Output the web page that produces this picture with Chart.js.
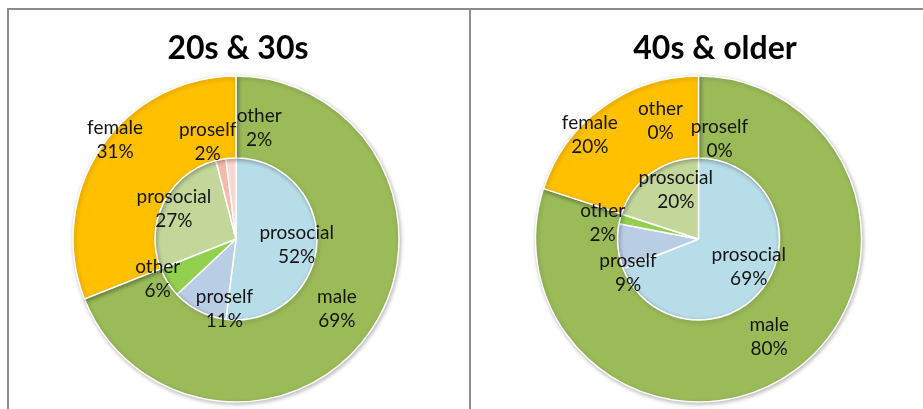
<!DOCTYPE html>
<html>
<head>
<meta charset="utf-8">
<script src="https://cdn.jsdelivr.net/npm/chart.js@4.4.1/dist/chart.umd.min.js"></script>
<style>
  html, body { margin: 0; padding: 0; background: #fff; }
  body { width: 923px; height: 409px; position: relative; overflow: hidden; }
  .panel { position: absolute; top: 8px; height: 401px; box-sizing: border-box;
           border-top: 2px solid #8c8c8c; border-left: 2px solid #8c8c8c; }
  #panelA { left: 7px; width: 462px; }
  #panelB { left: 469px; width: 454px; }
  canvas { position: absolute; top: 0; }
</style>
</head>
<body>
<div class="panel" id="panelA"></div>
<div class="panel" id="panelB"></div>
<canvas id="chartA" width="472" height="409" style="left:0"></canvas>
<canvas id="chartB" width="453" height="409" style="left:470px"></canvas>
<script>
// outer ring: gender split, inner pie: orientation within each gender
const genders = ['male', 'female'];
const orientations = ['prosocial', 'proself', 'other', 'prosocial', 'proself', 'other'];

const youngTitle = '20s & 30s';
const youngGender = [69, 31];
const youngOrientation = [52, 11, 6, 27, 2, 2];

const olderTitle = '40s & older';
const olderGender = [80, 20];
const olderOrientation = [69, 9, 2, 20, 0, 0];

const genderColors = ['#9BBB59', '#FFC000'];
const orientationColors = ['#B7DEE8', '#B9CDE5', '#92D050', '#C4D79B', '#F4B9A8', '#F9D6CF'];

// hand placement of the labels, relative to the middle of each slice
const youngNudges = [
  [[0, 1], [-20, -31]],
  [[0, 2], [16, 16], [-27, 7], [-8, -3], [-17, -37], [27, -50]]
];
const olderNudges = [
  [[-1, -1], [-37, -5]],
  [[0, -6], [-10, 28], [-37, -1], [13, 0], [21, -39], [-38, -57]]
];

// soft edge shadow under the outer ring
const ringShadow = {
  id: 'ringShadow',
  beforeDatasetDraw(chart, args) {
    if (args.index !== 0) return;
    const ctx = chart.ctx;
    ctx.save();
    ctx.shadowColor = 'rgba(0,0,0,0.28)';
    ctx.shadowBlur = 4;
    ctx.shadowOffsetX = 1;
    ctx.shadowOffsetY = 1.5;
  },
  afterDatasetDraw(chart, args) {
    if (args.index !== 0) return;
    chart.ctx.restore();
  }
};

const sliceLabels = {
  id: 'sliceLabels',
  afterDatasetsDraw(chart, args, opts) {
    const ctx = chart.ctx;
    const area = chart.chartArea;
    ctx.save();
    ctx.fillStyle = '#000';
    ctx.textAlign = 'center';
    ctx.textBaseline = 'alphabetic';
    ctx.font = 'bold 32px Lato';
    ctx.fillText(opts.title, (area.left + area.right) / 2 + opts.titleShift, 59);

    ctx.font = '19px Lato';
    ctx.fillStyle = '#141414';
    ctx.textBaseline = 'middle';
    chart.data.datasets.forEach((ds, di) => {
      const meta = chart.getDatasetMeta(di);
      meta.data.forEach((arc, i) => {
        const p = arc.getProps(['x', 'y', 'startAngle', 'endAngle', 'innerRadius', 'outerRadius'], true);
        const mid = (p.startAngle + p.endAngle) / 2;
        const r = p.innerRadius > 0 ? (p.innerRadius + p.outerRadius) / 2 : p.outerRadius * 0.75;
        const n = opts.nudges[di][i];
        const lx = p.x + Math.cos(mid) * r + n[0];
        const ly = p.y + Math.sin(mid) * r + n[1];
        ctx.fillText(ds.names[i], lx, ly - 12);
        ctx.fillText(ds.data[i] + '%', lx, ly + 12);
      });
    });
    ctx.restore();
  }
};

function makeChart(id, title, titleShift, genderData, orientationData, nudges, padLeft) {
  return new Chart(document.getElementById(id), {
    type: 'doughnut',
    data: {
      datasets: [
        {
          data: genderData,
          names: genders,
          backgroundColor: genderColors,
          borderColor: '#fff',
          borderWidth: 1.5,
          weight: 82
        },
        {
          data: orientationData,
          names: orientations,
          backgroundColor: orientationColors,
          borderColor: '#fff',
          borderWidth: 1.5,
          weight: 81
        }
      ]
    },
    options: {
      responsive: false,
      animation: false,
      events: [],
      cutout: 0,
      radius: 163,
      layout: { padding: { top: 76, bottom: 7, left: padLeft, right: 0 } },
      plugins: {
        legend: { display: false },
        tooltip: { enabled: false },
        title: { display: false },
        sliceLabels: { title: title, titleShift: titleShift, nudges: nudges }
      }
    },
    plugins: [ringShadow, sliceLabels]
  });
}

makeChart('chartA', youngTitle, 2, youngGender, youngOrientation, youngNudges, 0);
makeChart('chartB', olderTitle, 16.5, olderGender, olderOrientation, olderNudges, 4);
</script>
</body>
</html>
